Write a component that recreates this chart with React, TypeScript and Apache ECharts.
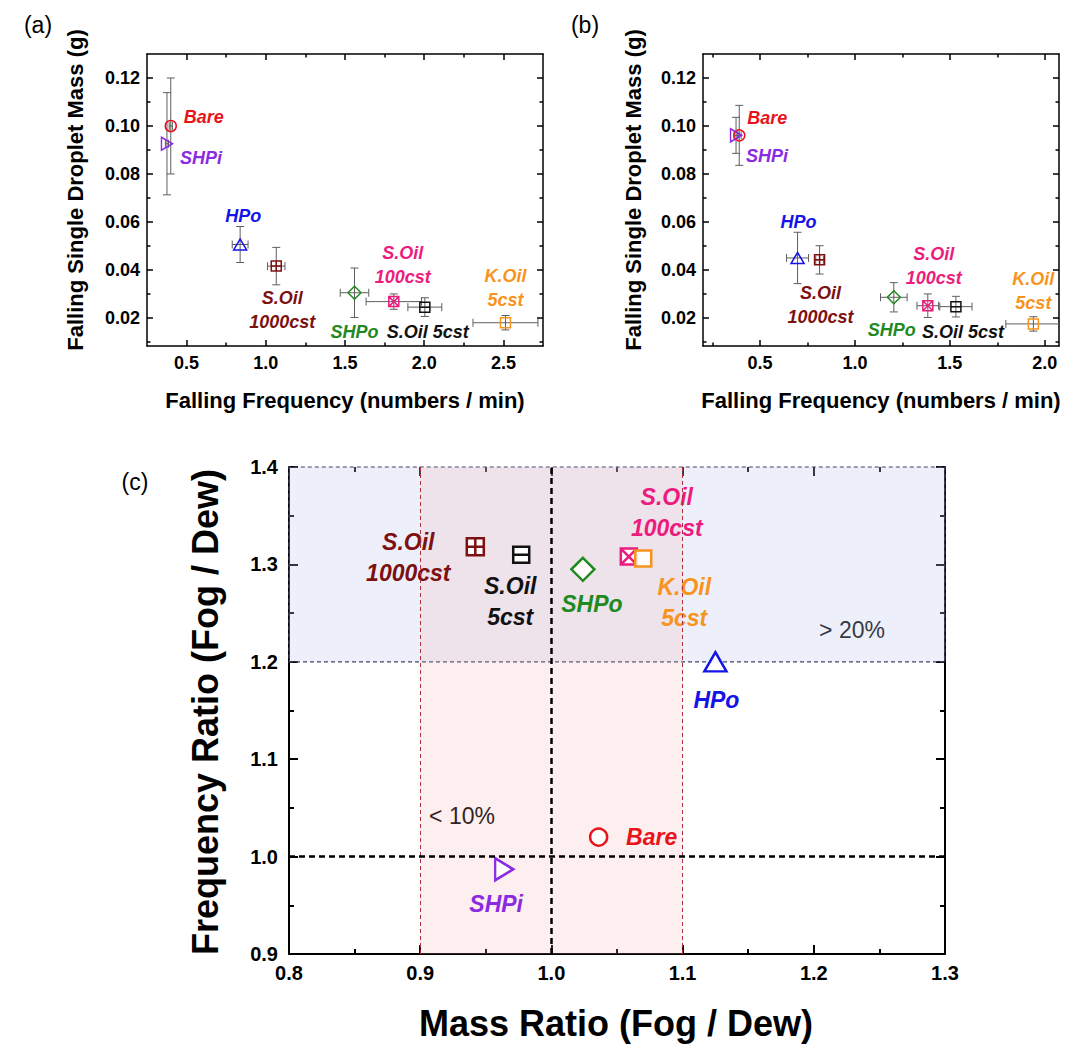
import React, { useEffect, useRef } from 'react';
import * as echarts from 'echarts';

const FONT = '"Liberation Sans", Arial, Helvetica, sans-serif';

// ---- samples ----
const samples = ['Bare', 'SHPi', 'HPo', 'S.Oil 1000cst', 'SHPo', 'S.Oil 100cst', 'S.Oil 5cst', 'K.Oil 5cst'];
const colors = ['#e8141c', '#8a2be2', '#1414e6', '#7d1111', '#1f8a1f', '#ec1c7e', '#111111', '#f7941d'];
const symbols = [
  'circle',
  'path://M0,0L10,5L0,10Z',
  'triangle',
  'path://M0,0H10V10H0Z M5,0V10 M0,5H10',
  'path://M5,0L10,5L5,10L0,5Z',
  'path://M0,0H10V10H0Z M0,0L10,10 M10,0L0,10',
  'path://M0,0H10V10H0Z M0,5H10',
  'path://M0,0H10V10H0Z',
];
const abLabels = ['Bare', 'SHPi', 'HPo', 'S.Oil\n1000cst', 'SHPo', 'S.Oil\n100cst', 'S.Oil 5cst', 'K.Oil\n5cst'];
const cLabels = ['Bare', 'SHPi', 'HPo', 'S.Oil\n1000cst', 'SHPo', 'S.Oil\n100cst', 'S.Oil\n5cst', 'K.Oil\n5cst'];

// ---- panel (a): dew ----
const aFreq = [0.40, 0.376, 0.838, 1.066, 1.56, 1.808, 2.004, 2.513];
const aFreqErr = [0.01, 0.01, 0.05, 0.055, 0.09, 0.175, 0.107, 0.205];
const aMass = [0.100, 0.0926, 0.0506, 0.0416, 0.0305, 0.0268, 0.0245, 0.018];
const aMassErr = [0.020, 0.0213, 0.0075, 0.0078, 0.0103, 0.0032, 0.0039, 0.003];

// ---- panel (b): fog ----
const bFreq = [0.391, 0.374, 0.698, 0.814, 1.205, 1.384, 1.532, 1.94];
const bFreqErr = [0.01, 0.01, 0.058, 0.02, 0.07, 0.057, 0.085, 0.145];
const bMass = [0.0961, 0.0961, 0.045, 0.0442, 0.0286, 0.0251, 0.0247, 0.0175];
const bMassErr = [0.0125, 0.0075, 0.0107, 0.0059, 0.0061, 0.0049, 0.0043, 0.003];

// ---- panel (c): ratios ----
const cMass = [1.036, 0.964, 1.125, 0.942, 1.024, 1.059, 0.977, 1.070];
const cFreq = [1.020, 0.987, 1.200, 1.318, 1.295, 1.308, 1.310, 1.306];

// ---- axes ----
const aXRange = [0.25, 2.75];
const bXRange = [0.2, 2.075];
const massRange = [0.0083, 0.13];
const cXRange = [0.8, 1.3];
const cYRange = [0.9, 1.4];
const aXMajor = [0.5, 1.0, 1.5, 2.0, 2.5];
const aXMinor = [0.75, 1.25, 1.75, 2.25];
const bXMajor = [0.5, 1.0, 1.5, 2.0];
const bXMinor = [0.25, 0.75, 1.25, 1.75];
const massMajor = [0.02, 0.04, 0.06, 0.08, 0.10, 0.12];
const massMinor = [0.01, 0.03, 0.05, 0.07, 0.09, 0.11];
const cXMajor = [0.8, 0.9, 1.0, 1.1, 1.2, 1.3];
const cXMinor = [0.85, 0.95, 1.05, 1.15, 1.25];
const cYMajor = [0.9, 1.0, 1.1, 1.2, 1.3, 1.4];
const cYMinor = [0.95, 1.05, 1.15, 1.25, 1.35];
const massBand = [0.9, 1.1];
const freqBand = [1.2, 1.4];

type Cfg = { lw: number; major: number; minor: number; dec: number; fs: number; margin: number; mirrorLine?: boolean };

function axes(dim: 'x' | 'y', gridIndex: number, range: number[], majors: number[], minors: number[], cfg: Cfg) {
  const main = dim === 'x' ? 'bottom' : 'left';
  const mirror = dim === 'x' ? 'top' : 'right';
  const line = { color: '#000', width: cfg.lw };
  const base = {
    type: 'value', gridIndex, min: range[0], max: range[1],
    splitLine: { show: false }, minorTick: { show: false }, silent: true,
  };
  return [
    {
      ...base, position: main,
      axisLine: { show: true, onZero: false, lineStyle: line },
      axisTick: { show: true, inside: true, length: cfg.major, customValues: majors, lineStyle: line },
      axisLabel: {
        show: true, customValues: majors, formatter: (v: number) => v.toFixed(cfg.dec),
        margin: cfg.margin, color: '#000', fontSize: cfg.fs, fontWeight: 'bold', fontFamily: FONT,
      },
    },
    {
      ...base, position: main,
      axisLine: { show: false, onZero: false },
      axisTick: { show: true, inside: true, length: cfg.minor, customValues: minors, lineStyle: line },
      axisLabel: { show: false },
    },
    {
      ...base, position: mirror,
      axisLine: { show: cfg.mirrorLine !== false, onZero: false, lineStyle: line },
      axisTick: { show: true, inside: true, length: cfg.major, customValues: majors, lineStyle: line },
      axisLabel: { show: false },
    },
    {
      ...base, position: mirror,
      axisLine: { show: false, onZero: false },
      axisTick: { show: true, inside: true, length: cfg.minor, customValues: minors, lineStyle: line },
      axisLabel: { show: false },
    },
  ];
}

const errRender = (params: any, api: any) => {
  const x = api.value(0), y = api.value(1), ex = api.value(2), ey = api.value(3);
  const c = api.coord([x, y]);
  const l = api.coord([x - ex, y]);
  const r = api.coord([x + ex, y]);
  const t = api.coord([x, y + ey]);
  const b = api.coord([x, y - ey]);
  const cap = 4;
  const style = { stroke: '#5e5e5e', lineWidth: 1 };
  return {
    type: 'group',
    children: [
      { type: 'line', shape: { x1: l[0], y1: c[1], x2: r[0], y2: c[1] }, style },
      { type: 'line', shape: { x1: l[0], y1: c[1] - cap, x2: l[0], y2: c[1] + cap }, style },
      { type: 'line', shape: { x1: r[0], y1: c[1] - cap, x2: r[0], y2: c[1] + cap }, style },
      { type: 'line', shape: { x1: c[0], y1: t[1], x2: c[0], y2: b[1] }, style },
      { type: 'line', shape: { x1: c[0] - cap, y1: t[1], x2: c[0] + cap, y2: t[1] }, style },
      { type: 'line', shape: { x1: c[0] - cap, y1: b[1], x2: c[0] + cap, y2: b[1] }, style },
    ],
  };
};

const abSizes: any[] = [11, [11, 13], [13, 11], 10, 13, 10, 10, 10];
const cSizes: any[] = [17, [18, 22], [22, 19], 17, 23, 16, 16, 16];
const aOff = [[33, -9], [34, 14], [3, -29], [6, 44], [0, 39], [9, -37], [3, 25], [0, -35]];
const bOff = [[28, -17], [31, 21], [1, -36], [1, 45], [-2, 33], [6, -40], [7, 25], [0, -33]];
const cOff = [[53, 0], [-8, 35], [1, 38], [-67, 11], [9, 35], [38, -44], [-11, 47], [41, 44]];

function scatterItems(xs: number[], ys: number[], sizes: any[], offs: number[][], labels: string[], bw: number, fill: string) {
  return samples.map((s, i) => ({
    name: s,
    value: [xs[i], ys[i]],
    symbol: symbols[i],
    symbolSize: sizes[i],
    itemStyle: { color: fill, borderColor: colors[i], borderWidth: bw, opacity: 1 },
    label: { show: true, formatter: labels[i], offset: offs[i], color: colors[i], opacity: 1 },
  }));
}

function textG(text: string, x: number, y: number, size: number, weight: string, rot = 0) {
  return {
    type: 'text', x, y, rotation: rot, silent: true,
    style: { text, fill: '#000', fontSize: size, fontWeight: weight, fontFamily: FONT, align: 'center', verticalAlign: 'middle' },
  };
}

export default function App() {
  const ref = useRef<HTMLDivElement>(null);
  useEffect(() => {
    if (!ref.current) return;
    const chart = echarts.init(ref.current, undefined, { renderer: 'svg' });
    const abCfgX: Cfg = { lw: 1.5, major: 6, minor: 3.5, dec: 1, fs: 18, margin: 8 };
    const abCfgY: Cfg = { lw: 1.5, major: 6, minor: 3.5, dec: 2, fs: 18, margin: 7 };
    const cCfgX: Cfg = { lw: 2, major: 9, minor: 5, dec: 1, fs: 20, margin: 9, mirrorLine: false };
    const cCfgY: Cfg = { lw: 2, major: 9, minor: 5, dec: 1, fs: 20, margin: 11 };
    const abLabel = {
      position: 'inside', fontSize: 18, fontWeight: 'bold', fontStyle: 'italic', fontFamily: FONT,
      lineHeight: 24, align: 'center', verticalAlign: 'middle',
    };
    const cLabel = { ...abLabel, fontSize: 23, lineHeight: 31 };
    const option: any = {
      animation: false,
      backgroundColor: '#fff',
      grid: [
        { left: 147, top: 54, width: 396, height: 292, outerBoundsMode: 'none' },
        { left: 703, top: 54, width: 356, height: 292, outerBoundsMode: 'none' },
        { left: 289, top: 467, width: 656, height: 487, outerBoundsMode: 'none' },
      ],
      xAxis: [
        ...axes('x', 0, aXRange, aXMajor, aXMinor, abCfgX),
        ...axes('x', 1, bXRange, bXMajor, bXMinor, abCfgX),
        ...axes('x', 2, cXRange, cXMajor, cXMinor, cCfgX),
      ],
      yAxis: [
        ...axes('y', 0, massRange, massMajor, massMinor, abCfgY),
        ...axes('y', 1, massRange, massMajor, massMinor, abCfgY),
        ...axes('y', 2, cYRange, cYMajor, cYMinor, cCfgY),
      ],
      series: [
        {
          type: 'custom', xAxisIndex: 0, yAxisIndex: 0, renderItem: errRender, clip: true, silent: true, z: 2,
          encode: { x: 0, y: 1 },
          data: samples.map((_, i) => [aFreq[i], aMass[i], aFreqErr[i], aMassErr[i]]),
        },
        {
          type: 'custom', xAxisIndex: 4, yAxisIndex: 4, renderItem: errRender, clip: true, silent: true, z: 2,
          encode: { x: 0, y: 1 },
          data: samples.map((_, i) => [bFreq[i], bMass[i], bFreqErr[i], bMassErr[i]]),
        },
        {
          type: 'scatter', xAxisIndex: 0, yAxisIndex: 0, z: 3, silent: true,
          emphasis: { disabled: true }, label: abLabel, itemStyle: { opacity: 1 },
          data: scatterItems(aFreq, aMass, abSizes, aOff, abLabels, 1.5, 'rgba(255,255,255,0)'),
        },
        {
          type: 'scatter', xAxisIndex: 4, yAxisIndex: 4, z: 3, silent: true,
          emphasis: { disabled: true }, label: abLabel, itemStyle: { opacity: 1 },
          data: scatterItems(bFreq, bMass, abSizes, bOff, abLabels, 1.5, 'rgba(255,255,255,0)'),
        },
        {
          type: 'scatter', xAxisIndex: 8, yAxisIndex: 8, z: 1, silent: true, data: [],
          markArea: {
            silent: true,
            data: [
              [
                { xAxis: cXRange[0], yAxis: freqBand[0], itemStyle: { color: 'rgba(190,200,240,0.28)', borderColor: '#3d4466', borderWidth: 1.2, borderType: [4, 3] } },
                { xAxis: cXRange[1], yAxis: freqBand[1] },
              ],
              [
                { xAxis: massBand[0], yAxis: cYRange[0], itemStyle: { color: 'rgba(245,170,175,0.2)', borderWidth: 0 } },
                { xAxis: massBand[1], yAxis: cYRange[1] },
              ],
            ],
          },
          markLine: {
            silent: true, symbol: ['none', 'none'], label: { show: false },
            data: [
              { xAxis: massBand[0], lineStyle: { color: '#b03040', type: [4, 3], width: 1 } },
              { xAxis: massBand[1], lineStyle: { color: '#b03040', type: [4, 3], width: 1 } },
              { xAxis: 1.0, lineStyle: { color: '#000', type: [6, 4], width: 2.5 } },
              { yAxis: 1.0, lineStyle: { color: '#000', type: [6, 4], width: 2.5 } },
            ],
          },
        },
        {
          type: 'scatter', xAxisIndex: 8, yAxisIndex: 8, z: 4, silent: true,
          emphasis: { disabled: true }, label: cLabel, itemStyle: { opacity: 1 },
          data: scatterItems(cMass, cFreq, cSizes, cOff, cLabels, 2.5, 'rgba(255,255,255,0.9)'),
        },
      ],
      graphic: [
        { ...textG('(a)', 38, 25, 23, 'normal') },
        { ...textG('(b)', 585, 25, 23, 'normal') },
        { ...textG('(c)', 135, 482, 23, 'normal') },
        { ...textG('Falling Frequency (numbers / min)', 345, 400, 22, 'bold') },
        { ...textG('Falling Frequency (numbers / min)', 881, 400, 22, 'bold') },
        { ...textG('Falling Single Droplet Mass (g)', 75, 190, 22, 'bold', Math.PI / 2) },
        { ...textG('Falling Single Droplet Mass (g)', 633, 190, 22, 'bold', Math.PI / 2) },
        { ...textG('Frequency Ratio (Fog / Dew)', 205, 712, 36, 'bold', Math.PI / 2) },
        { ...textG('Mass Ratio (Fog / Dew)', 616, 1023, 36, 'bold') },
        { ...textG('> 20%', 852, 630, 23, 'normal') },
        { ...textG('< 10%', 462, 816, 23, 'normal') },
      ],
    };
    chart.setOption(option);
    return () => chart.dispose();
  }, []);
  return (
    <div
      ref={ref}
      style={{ position: 'absolute', left: 0, top: 0, width: 1067, height: 1048, background: '#fff' }}
    />
  );
}
